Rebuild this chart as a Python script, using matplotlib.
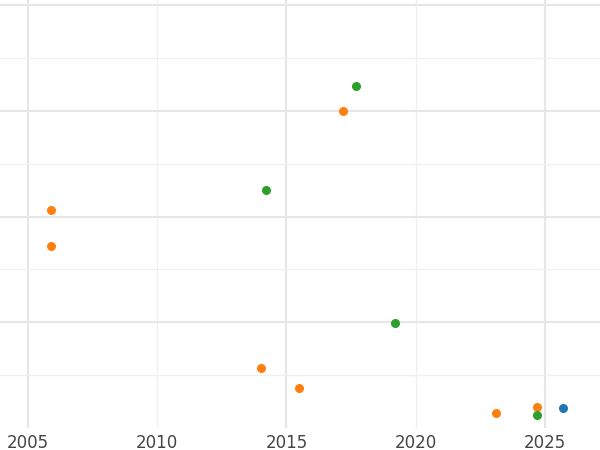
import matplotlib
matplotlib.use("Agg")
import matplotlib.pyplot as plt
from matplotlib.ticker import MultipleLocator

orange_x = [2005.9, 2005.9, 2017.2, 2014.0, 2015.5, 2023.1, 2024.7]
orange_y = [4.13, 3.45, 6.0, 1.13, 0.75, 0.28, 0.40]
green_x = [2017.7, 2014.2, 2019.2, 2024.7]
green_y = [6.47, 4.51, 1.98, 0.25]
blue_x = [2025.7]
blue_y = [0.38]

fig = plt.figure(figsize=(6, 4.5), dpi=100)
ax = fig.add_axes([0, 1 - 428/450, 1, 428/450])
ax.scatter(orange_x, orange_y, color="#ff7f0e", s=30, zorder=3)
ax.scatter(green_x, green_y, color="#2ca02c", s=30, zorder=3)
ax.scatter(blue_x, blue_y, color="#1f77b4", s=30, zorder=3)
ax.set_xlim(2003.92, 2027.13)
ax.set_ylim(0, 8.1)
ax.xaxis.set_major_locator(MultipleLocator(5))
ax.xaxis.set_minor_locator(MultipleLocator(5))
ax.yaxis.set_major_locator(MultipleLocator(1))
for x in [2005, 2015, 2025]:
    ax.axvline(x, color="#e6e6e6", lw=1.5, zorder=0)
for x in [2010, 2020]:
    ax.axvline(x, color="#f0f0f0", lw=1, zorder=0)
for i, y in enumerate(range(1, 9)):
    ax.axhline(y, color="#e6e6e6" if y % 2 == 0 else "#f0f0f0", lw=1.5 if y % 2 == 0 else 1, zorder=0)
for s in ax.spines.values():
    s.set_visible(False)
ax.tick_params(axis="y", left=False, labelleft=False)
ax.tick_params(axis="x", length=0, labelsize=12, colors="#444444", pad=4)
ax.set_yticks([])
fig.savefig("out.png", dpi=100)
